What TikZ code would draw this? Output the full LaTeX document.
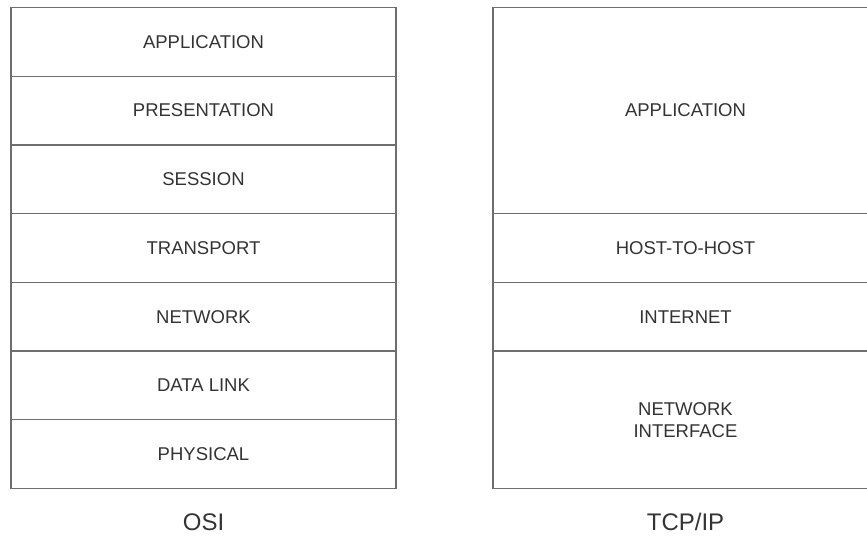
\documentclass[tikz,border=0pt]{standalone}
\usepackage{fontspec}
\setmainfont{Liberation Sans}
\definecolor{edge}{HTML}{6E6E6E}
\definecolor{txt}{HTML}{333333}
\begin{document}
\begin{tikzpicture}[x=1pt,y=-1pt,
  layer/.style={draw=edge, line width=1.4pt, rectangle, inner sep=0pt, outer sep=0pt,
    minimum width=385pt, anchor=north west, text=txt, align=center,
    font=\fontsize{18.5}{22}\selectfont},
  caption/.style={text=txt, font=\fontsize{24}{28}\selectfont, inner sep=0pt}]
\useasboundingbox (0,0) rectangle (867,554);
\def\rh{68.7}
% OSI
\node[layer, minimum height=\rh pt] (app) at (11,7.5) {APPLICATION};
\node[layer, minimum height=\rh pt] (pre) at (11,76.2) {PRESENTATION};
\node[layer, minimum height=\rh pt] (ses) at (11,144.9) {SESSION};
\node[layer, minimum height=\rh pt] (tra) at (11,213.6) {TRANSPORT};
\node[layer, minimum height=\rh pt] (net) at (11,282.3) {NETWORK};
\node[layer, minimum height=\rh pt] (dat) at (11,351.0) {DATA LINK};
\node[layer, minimum height=\rh pt] (phy) at (11,419.7) {PHYSICAL};
% TCP/IP
\node[layer, minimum height=206.1pt] (tapp) at (493,7.5) {APPLICATION};
\node[layer, minimum height=\rh pt] (thost) at (493,213.6) {HOST-TO-HOST};
\node[layer, minimum height=\rh pt] (tint) at (493,282.3) {INTERNET};
\node[layer, minimum height=137.4pt] (tnet) at (493,351.0) {NETWORK\\INTERFACE};
% captions
\node[caption] (osi) at (203.5,522) {OSI};
\node[caption] (tcp) at (685.5,522) {TCP/IP};
\end{tikzpicture}
\end{document}
